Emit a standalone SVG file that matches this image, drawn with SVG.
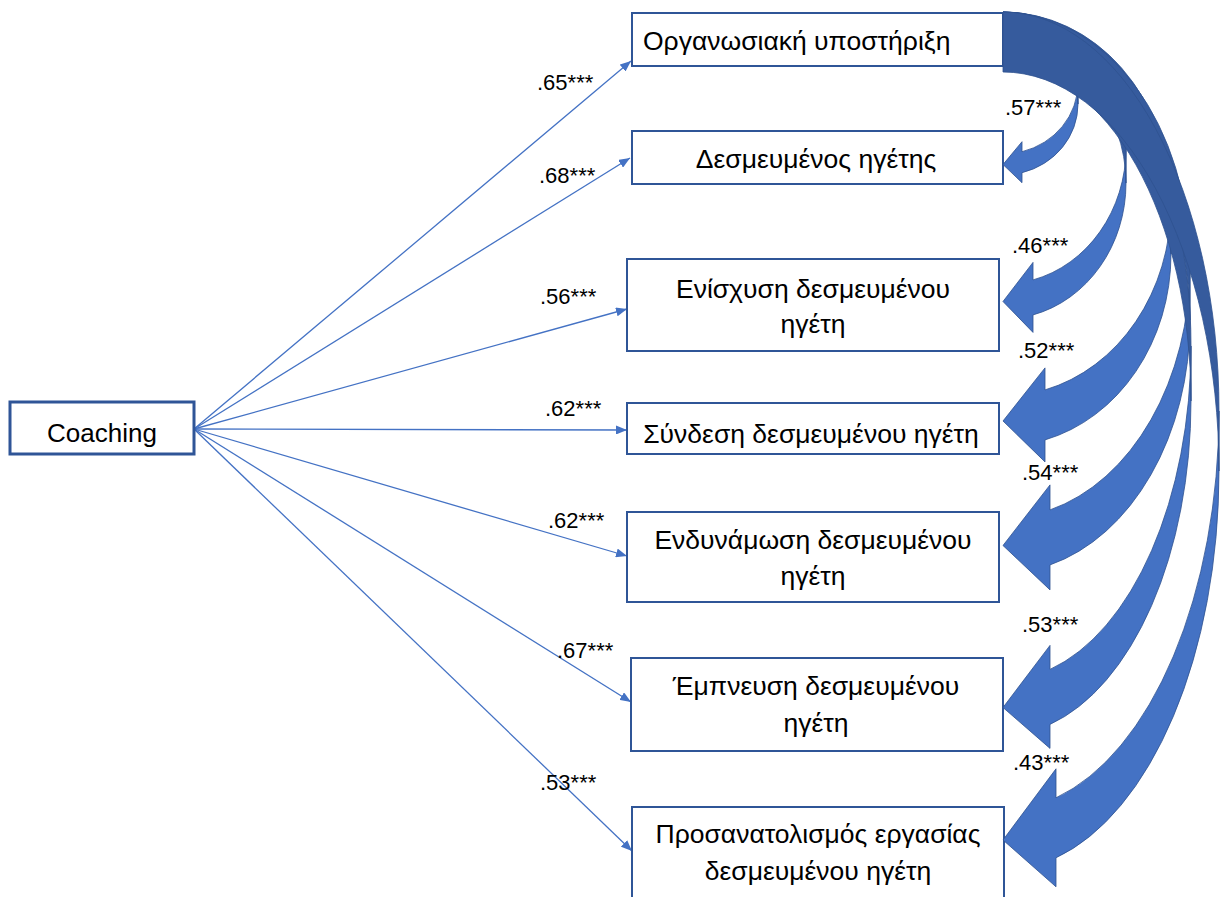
<svg xmlns="http://www.w3.org/2000/svg" width="1224" height="897" viewBox="0 0 1224 897">
<defs>
<style>
.box{fill:#fff;stroke:#2F5597;stroke-width:2}
.t{font-family:"Liberation Sans","Noto Sans",sans-serif;font-size:26.5px;fill:#000}
.tm{text-anchor:middle}
.lbl{font-family:"Liberation Sans","Noto Sans",sans-serif;font-size:22px;fill:#000}
.con{stroke:#4472C4;stroke-width:1.3;fill:none;marker-end:url(#ah)}
.lt{fill:#4472C4;stroke:#2F528F;stroke-width:0.8}
.dk{fill:#365B9D;stroke:#2F528F;stroke-width:0.8}
</style>
<marker id="ah" markerUnits="userSpaceOnUse" markerWidth="11" markerHeight="9" refX="11" refY="4.5" orient="auto">
<path d="M0,0 L11,4.5 L0,9 Z" fill="#4472C4"/>
</marker>
</defs>
<rect width="1224" height="897" fill="#fff"/>

<g id="connectors">
<line class="con" x1="194" y1="429" x2="631" y2="61"/>
<line class="con" x1="194" y1="429" x2="630" y2="158"/>
<line class="con" x1="194" y1="429" x2="627" y2="309"/>
<line class="con" x1="194" y1="429" x2="627" y2="430"/>
<line class="con" x1="194" y1="429" x2="627" y2="556"/>
<line class="con" x1="194" y1="429" x2="631" y2="702"/>
<line class="con" x1="194" y1="429" x2="632" y2="851"/>
</g>

<g id="path-labels">
<text class="lbl" x="537" y="90">.65***</text>
<text class="lbl" x="539" y="183">.68***</text>
<text class="lbl" x="540" y="304">.56***</text>
<text class="lbl" x="545" y="416">.62***</text>
<text class="lbl" x="548" y="528">.62***</text>
<text class="lbl" x="557" y="658">.67***</text>
<text class="lbl" x="540" y="790">.53***</text>
</g>

<g id="node-coaching">
<rect class="box" x="10" y="402" width="184" height="52" style="stroke-width:3"/>
<text class="t tm" x="102" y="442" style="font-size:26px">Coaching</text>
</g>
<g id="node-org">
<rect class="box" x="632" y="13" width="371" height="53"/>
<text class="t" x="643" y="50">Οργανωσιακή υποστήριξη</text>
</g>
<g id="node-leader">
<rect class="box" x="632" y="131" width="371" height="53"/>
<text class="t tm" x="816" y="168">Δεσμευμένος ηγέτης</text>
</g>
<g id="node-enisxysi">
<rect class="box" x="627" y="259" width="372" height="92"/>
<text class="t tm" x="813" y="298">Ενίσχυση δεσμευμένου</text>
<text class="t tm" x="813" y="333">ηγέτη</text>
</g>
<g id="node-syndesi">
<rect class="box" x="627" y="403" width="372" height="51"/>
<text class="t tm" x="811" y="443">Σύνδεση δεσμευμένου ηγέτη</text>
</g>
<g id="node-endynamosi">
<rect class="box" x="627" y="512" width="372" height="90"/>
<text class="t tm" x="813" y="549">Ενδυνάμωση δεσμευμένου</text>
<text class="t tm" x="813" y="585">ηγέτη</text>
</g>
<g id="node-empneusi">
<rect class="box" x="631" y="658" width="372" height="93"/>
<text class="t tm" x="816" y="695">Έμπνευση δεσμευμένου</text>
<text class="t tm" x="816" y="732">ηγέτη</text>
</g>
<g id="node-prosanatolismos">
<rect class="box" x="632" y="807" width="372" height="100"/>
<text class="t tm" x="818" y="843">Προσανατολισμός εργασίας</text>
<text class="t tm" x="818" y="880">δεσμευμένου ηγέτη</text>
</g>

<g id="curved-arrows">
<g id="ca-57">
<path class="lt" d="M1078,83 A75,71 0 0 1 1022,151.7 L1022,141.7 L1003,164.5 L1022,182.7 L1022,172.7 A75,71 0 0 0 1078,104 Z"/>
<path class="dk" d="M1003,33 A75,71 0 0 1 1078,104 L1078,83 A75,71 0 0 0 1003,12 Z"/>
</g>
<g id="ca-46">
<path class="lt" d="M1126,148 A123,136 0 0 1 1033,279.9 L1033,262.4 L1003,301.5 L1033,332.4 L1033,314.9 A123,136 0 0 0 1126,183 Z"/>
<path class="dk" d="M1003,47 A123,136 0 0 1 1126,183 L1126,148 A123,136 0 0 0 1003,12 Z"/>
</g>
<g id="ca-52">
<path class="lt" d="M1171,204 A168,192 0 0 1 1045,389.9 L1045,367.9 L1003,421 L1045,461.9 L1045,439.9 A168,192 0 0 0 1171,254 Z"/>
<path class="dk" d="M1003,62 A168,192 0 0 1 1171,254 L1171,204 A168,192 0 0 0 1003,12 Z"/>
</g>
<g id="ca-54">
<path class="lt" d="M1190,265 A187,253 0 0 1 1050,509.9 L1050,484.9 L1003,545.5 L1050,589.9 L1050,564.9 A187,253 0 0 0 1190,320 Z"/>
<path class="dk" d="M1003,67 A187,253 0 0 1 1190,320 L1190,265 A187,253 0 0 0 1003,12 Z"/>
</g>
<g id="ca-53">
<path class="lt" d="M1191,346 A188,334 0 0 1 1050,669.4 L1050,645.4 L1003,707.5 L1050,748.4 L1050,724.4 A188,334 0 0 0 1191,401 Z"/>
<path class="dk" d="M1003,67 A188,334 0 0 1 1191,401 L1191,346 A188,334 0 0 0 1003,12 Z"/>
</g>
<g id="ca-43">
<path class="lt" d="M1219,411 A216,399 0 0 1 1056,797.8 L1056,768.8 L1003,840 L1056,886.8 L1056,857.8 A216,399 0 0 0 1219,471 Z"/>
<path class="dk" d="M1003,72 A216,399 0 0 1 1219,471 L1219,411 A216,399 0 0 0 1003,12 Z"/>
</g>
</g>

<g id="curve-labels">
<text class="lbl" x="1005" y="115">.57***</text>
<text class="lbl" x="1012" y="253">.46***</text>
<text class="lbl" x="1018" y="358">.52***</text>
<text class="lbl" x="1022" y="480">.54***</text>
<text class="lbl" x="1022" y="632">.53***</text>
<text class="lbl" x="1013" y="770">.43***</text>
</g>
</svg>
